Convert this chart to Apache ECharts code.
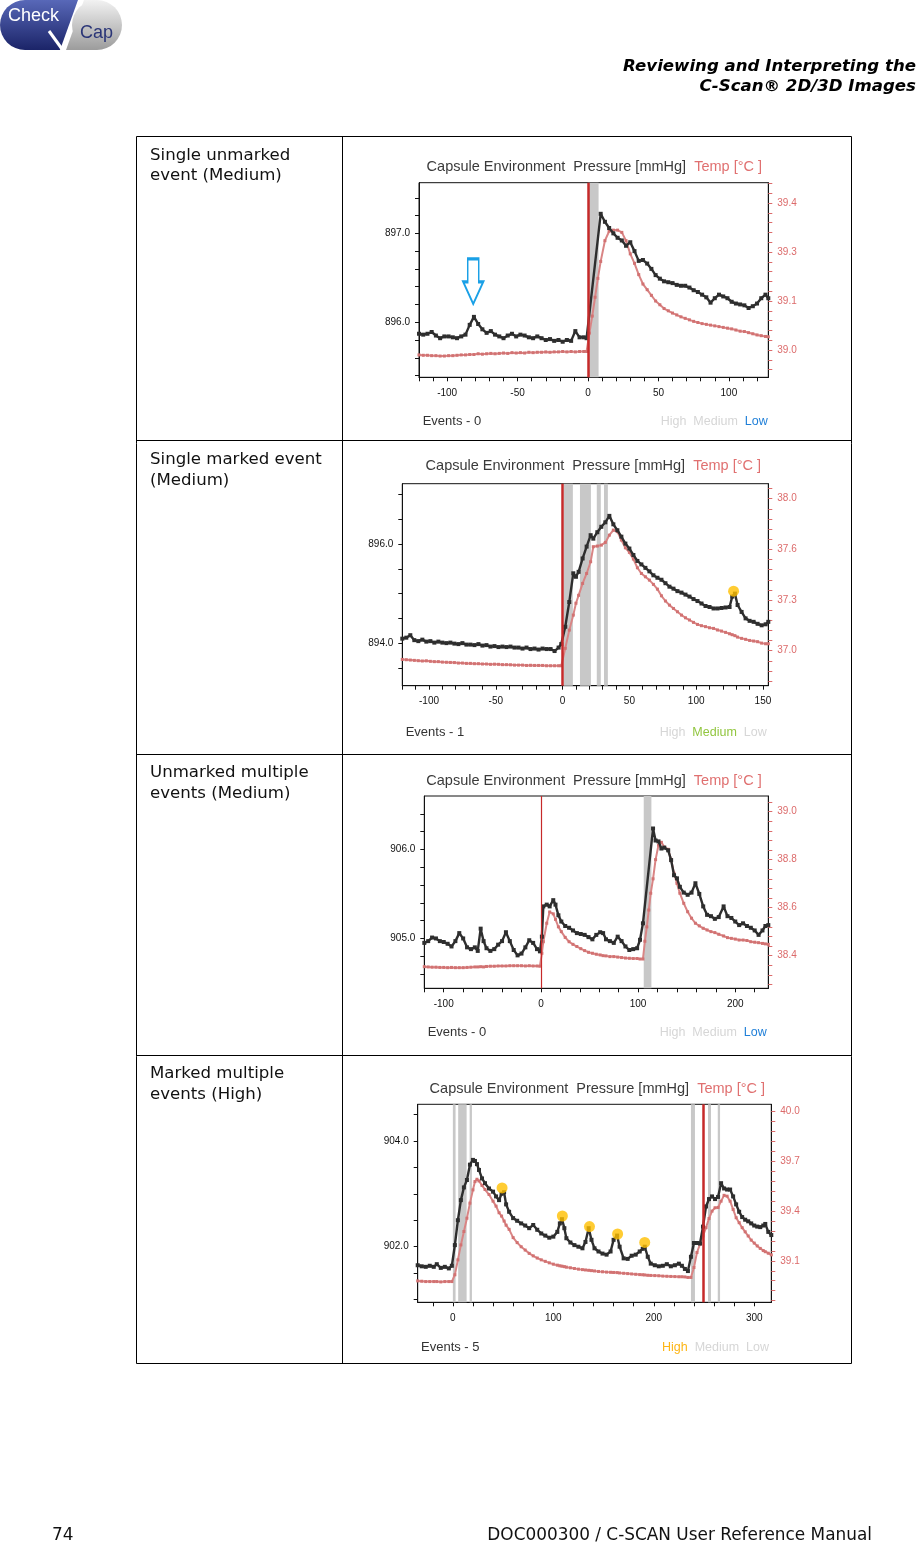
<!DOCTYPE html>
<html><head><meta charset="utf-8">
<script src="https://cdn.jsdelivr.net/npm/echarts@6/dist/echarts.min.js"></script>
<style>html,body{margin:0;padding:0;background:#fff}#c{width:917px;height:1544px}</style>
</head><body><div id="c"></div><script>
// ---------------- DATA ----------------
// Chart 1: Single unmarked event (Medium)
const c1x = [-120,-117,-114,-111,-108,-105,-102,-99,-96,-93,-90,-87,-84,-81,-78,-75,-72,-69,-66,-63,-60,-57,-54,-51,-48,-45,-42,-39,-36,-33,-30,-27,-24,-21,-18,-15,-12,-9,-6,-3,-1,1,3,5,7,9,12,15,18,21,24,27,30,33,36,39,42,45,48,51,54,57,60,63,66,69,72,75,78,81,84,87,90,93,96,99,102,105,108,111,114,117,120,123,126,128];
const c1p = [895.87,895.86,895.87,895.89,895.85,895.82,895.84,895.84,895.83,895.82,895.84,895.86,895.97,896.06,895.98,895.92,895.88,895.9,895.86,895.84,895.82,895.85,895.87,895.84,895.86,895.85,895.83,895.82,895.84,895.82,895.8,895.81,895.79,895.8,895.78,895.8,895.79,895.9,895.83,895.83,895.82,null,null,null,null,897.22,897.13,897.06,897.0,896.95,896.92,896.86,896.9,896.8,896.69,896.7,896.66,896.6,896.53,896.49,896.46,896.45,896.44,896.42,896.41,896.41,896.39,896.36,896.34,896.31,896.28,896.22,896.27,896.31,896.29,896.27,896.23,896.21,896.2,896.19,896.16,896.18,896.21,896.27,896.31,896.27];
const c1t = [38.987,38.986,38.986,38.985,38.985,38.984,38.984,38.985,38.985,38.986,38.987,38.987,38.988,38.988,38.99,38.989,38.99,38.991,38.99,38.991,38.992,38.991,38.993,38.992,38.993,38.992,38.994,38.993,38.994,38.994,38.995,38.994,38.995,38.995,38.996,38.995,38.996,38.995,38.996,38.996,38.996,39.045,39.09,39.14,39.19,39.235,39.29,39.315,39.318,39.318,39.312,39.29,39.255,39.23,39.2,39.175,39.16,39.145,39.13,39.12,39.11,39.104,39.098,39.093,39.088,39.084,39.08,39.076,39.073,39.07,39.068,39.066,39.064,39.062,39.06,39.058,39.056,39.053,39.05,39.049,39.046,39.043,39.04,39.038,39.036,39.035];
const c1xLabels = [-100,-50,0,50,100];
const c1pLabels = [896,897];
const c1tLabels = [39.0,39.13,39.26,39.39];
const c1bands = [[0.3,7.5]];
const c1red = [0];
const c1dots = [];
const c1arrow = [-81.5,896.46];

// Chart 2: Single marked event (Medium)
const c2x = [-120,-117,-114,-111,-108,-105,-102,-99,-96,-93,-90,-87,-84,-81,-78,-75,-72,-69,-66,-63,-60,-57,-54,-51,-48,-45,-42,-39,-36,-33,-30,-27,-24,-21,-18,-15,-12,-9,-6,-3,-1,2,5,8,10,12,15,18,21,23,26,29,32,35,38,41,44,47,50,53,56,59,62,65,68,71,74,77,80,83,86,89,92,95,98,101,104,107,110,113,116,119,122,125,127,129,131,134,137,140,143,146,149,152,154];
const c2p = [894.09,894.11,894.16,894.06,894.04,894.07,894.03,894.04,894.01,894.03,894.01,894.0,894.01,893.99,893.98,894.0,893.97,893.97,893.96,893.98,893.95,893.96,893.93,893.94,893.92,893.93,893.92,893.93,893.91,893.91,893.89,893.91,893.88,893.89,893.87,893.89,893.88,893.88,893.84,893.91,893.98,894.33,894.83,895.41,895.34,895.44,895.71,895.95,896.18,896.11,896.24,896.35,896.44,896.57,896.4,896.28,896.15,896.01,895.91,895.78,895.66,895.59,895.52,895.45,895.37,895.32,895.28,895.21,895.14,895.1,895.05,895.02,894.98,894.94,894.89,894.85,894.8,894.75,894.73,894.7,894.7,894.71,894.72,894.73,894.94,895.0,894.77,894.63,894.5,894.45,894.43,894.39,894.36,894.38,894.43];
const c2t = [36.945,36.943,36.941,36.939,36.937,36.935,36.936,36.933,36.931,36.931,36.928,36.927,36.926,36.925,36.922,36.922,36.92,36.92,36.918,36.918,36.916,36.916,36.914,36.915,36.914,36.912,36.912,36.911,36.909,36.909,36.909,36.907,36.908,36.907,36.907,36.907,36.905,36.905,36.905,36.905,36.905,37.015,37.13,37.225,37.3,37.35,37.425,37.488,37.562,37.657,37.661,37.667,37.684,37.73,37.762,37.752,37.699,37.65,37.621,37.579,37.524,37.488,37.467,37.446,37.419,37.389,37.347,37.314,37.288,37.267,37.246,37.225,37.208,37.194,37.179,37.166,37.158,37.152,37.145,37.141,37.131,37.124,37.116,37.107,37.101,37.095,37.086,37.078,37.072,37.065,37.061,37.057,37.048,37.044,37.044];
const c2xLabels = [-100,-50,0,50,100,150];
const c2pLabels = [894,896];
const c2tLabels = [37.0,37.32,37.64,37.96];
const c2bands = [[0.7,7.7],[13,21.2],[25.6,28.6],[31,33.9]];
const c2red = [0];
const c2dots = [[128,895.05]];

// Chart 3: Unmarked multiple events (Medium)
const c3x = [-120,-116,-112,-108,-104,-100,-96,-92,-88,-84,-80,-76,-72,-68,-65,-62,-59,-56,-52,-48,-44,-40,-36,-32,-28,-24,-20,-16,-12,-8,-4,-1,1,2.5,6,9,12.7,15,18,21,25,29,33,37,41,45,49,53,57,61,64,67,71,75,79,83,87,91,95,99,102,105,107,109,111,113,115.4,118,121,124,127,131,134,137,140,143,147,151,155,159,163,167,171,175,179,183,188,192,196,200,204,208,212,216,220,224,228,231,234];
const c3p = [904.95,904.97,905.01,905.0,904.97,904.96,904.94,904.91,904.97,905.06,905.0,904.9,904.88,904.9,904.86,905.11,904.97,904.89,904.86,904.88,904.93,904.97,905.07,904.97,904.87,904.81,904.83,904.9,904.98,904.95,904.88,904.855,905.02,905.36,905.38,905.36,905.43,905.38,905.26,905.19,905.14,905.12,905.09,905.06,905.05,905.04,905.015,904.99,905.04,905.07,905.06,904.99,904.97,904.95,905.02,904.97,904.91,904.87,904.88,904.89,904.985,905.17,null,null,null,null,906.235,906.1,906.09,906.01,906.02,905.99,905.88,905.71,905.675,905.58,905.515,905.49,905.515,905.62,905.5,905.36,905.265,905.25,905.22,905.24,905.36,905.25,905.23,905.19,905.15,905.17,905.14,905.12,905.09,905.04,905.09,905.14,905.15];
const c3t = [38.354,38.353,38.352,38.352,38.351,38.351,38.35,38.351,38.35,38.35,38.35,38.351,38.352,38.353,38.353,38.354,38.353,38.355,38.356,38.356,38.357,38.357,38.357,38.358,38.358,38.358,38.358,38.357,38.358,38.357,38.357,38.356,38.41,38.458,38.535,38.582,38.574,38.551,38.52,38.5,38.476,38.458,38.447,38.438,38.429,38.421,38.414,38.41,38.406,38.403,38.4,38.399,38.396,38.396,38.394,38.392,38.39,38.389,38.388,38.388,38.386,38.386,38.46,38.52,38.59,38.66,38.72,38.8,38.86,38.872,38.852,38.843,38.799,38.743,38.701,38.66,38.618,38.583,38.556,38.535,38.524,38.514,38.507,38.5,38.496,38.489,38.482,38.475,38.472,38.469,38.465,38.465,38.463,38.458,38.456,38.454,38.451,38.449,38.447];
const c3xLabels = [-100,0,100,200];
const c3pLabels = [905,906];
const c3tLabels = [38.4,38.6,38.8,39.0];
const c3bands = [[105.8,113.7]];
const c3red = [0];
const c3dots = [];

// Chart 4: Marked multiple events (High)
const c4x = [-35,-31,-27,-23,-19,-16,-12,-8,-4,-1,2,5,8,11,14,17,20,22,24,26,29,32,36,40,43,46,48.5,51,53,56,60,64,68,72,76,80,84,88,92,96,100,104,106.5,108.6,111,113,117,121,125,129,132,135.2,138,141,145,149,153,157,160,163.5,166,170,174,178,182,186,189,191,194,197,201,205,209,213,217,221,225,228,231,234,237,240,243,246,249,252,255,258,261,264,267,270,273,276,279,282,285,288,291,294,297,300,303,306,309,311,314,317];
const c4p = [901.65,901.63,901.62,901.64,901.62,901.67,901.6,901.62,901.59,901.64,902.03,902.5,902.88,903.12,903.26,903.55,903.64,903.62,903.56,903.45,903.29,903.2,903.1,903.04,902.95,902.88,903.0,903.03,902.8,902.66,902.54,902.49,902.44,902.4,902.35,902.41,902.32,902.25,902.21,902.17,902.19,902.28,902.44,902.52,902.35,902.16,902.08,902.03,902.0,901.97,902.09,902.35,902.13,901.97,901.91,901.87,901.85,901.91,902.13,902.21,902.0,901.78,901.77,901.83,901.85,901.91,901.96,902.0,901.81,901.68,901.65,901.63,901.64,901.67,901.63,901.65,901.68,901.64,901.58,901.54,901.81,902.07,902.07,902.06,902.38,902.76,902.9,902.95,902.9,902.94,903.2,903.1,903.08,903.08,902.95,902.8,902.66,902.56,902.51,902.48,902.44,902.4,902.38,902.37,902.4,902.43,902.28,902.22];
const c4t = [38.979,38.977,38.975,38.975,38.975,38.975,38.973,38.975,38.975,38.975,39.016,39.106,39.196,39.277,39.357,39.448,39.528,39.578,39.592,39.582,39.555,39.53,39.5,39.46,39.43,39.39,39.37,39.34,39.315,39.29,39.24,39.21,39.185,39.165,39.145,39.13,39.117,39.106,39.097,39.088,39.08,39.074,39.07,39.068,39.065,39.062,39.058,39.054,39.05,39.047,39.045,39.043,39.041,39.039,39.036,39.034,39.032,39.031,39.03,39.029,39.027,39.025,39.023,39.021,39.019,39.017,39.016,39.015,39.013,39.012,39.011,39.01,39.008,39.007,39.006,39.005,39.004,39.004,39.003,39.0,39.0,39.06,39.15,39.2,39.25,39.3,39.355,39.4,39.42,39.422,39.46,39.495,39.49,39.46,39.41,39.36,39.33,39.3,39.275,39.25,39.225,39.207,39.19,39.175,39.162,39.155,39.146,39.136];
const c4xLabels = [0,100,200,300];
const c4pLabels = [902,904];
const c4tLabels = [39.1,39.4,39.7,40.0];
const c4bands = [[0,2.7],[5.3,13.7],[16.7,19],[237,241],[254,257],[263.7,266]];
const c4red = [249.5];
const c4dots = [[49,903.11],[109,902.58],[136,902.38],[164,902.24],[191,902.08]];

const eventCounts = [0,1,0,5];
const rowLabels = [["Single unmarked","event (Medium)"],["Single marked event","(Medium)"],["Unmarked multiple","events (Medium)"],["Marked multiple","events (High)"]];
const activeLevel = ['Low','Medium','Low','High'];

// ---------------- LAYOUT / STYLE ----------------
const FC = '"Liberation Sans", Arial, sans-serif';
const FP = '"DejaVu Sans", Verdana, sans-serif';
const BLACK = '#2e2e2e', PINK = '#d98585', PINKD = '#d27272', PINKTXT = '#dc6b6b', RED = '#c62a2a';
function ticks(a, step, n){ const r=[]; for(let i=0;i<n;i++) r.push(+(a+i*step).toFixed(4)); return r; }
const zip = (xs, ys) => xs.map((x,k)=>[x, ys[k]]);

const charts = [
 {g:[419,182.7,349.3,194.6], x:c1x,p:c1p,t:c1t, xr:[-120,128], xt:ticks(-120,10,25), xl:c1xLabels,
  pr:[895.38,897.57], pt:ticks(895.4,0.2,11), pl:c1pLabels, tr:[38.9276,39.4438], tt:ticks(38.948,0.026,20), tl:c1tLabels,
  bands:c1bands, red:c1red, redW:2.5, dots:c1dots, arrow:c1arrow, title:[762,166.5], ev:[422.7,421.5], hml:[767.7,421.5]},
 {g:[402.3,483.7,366,202], x:c2x,p:c2p,t:c2t, xr:[-120,154], xt:ticks(-120,10,28), xl:c2xLabels,
  pr:[893.14,897.22], pt:ticks(893.5,0.5,8), pl:c2pLabels, tr:[36.779,38.055], tt:ticks(36.808,0.064,20), tl:c2tLabels,
  bands:c2bands, red:c2red, redW:2.5, dots:c2dots, title:[761,466.2], ev:[405.7,732.8], hml:[766.7,732.8]},
 {g:[424.3,796,344,192.3], x:c3x,p:c3p,t:c3t, xr:[-120,234], xt:ticks(-120,20,18), xl:c3xLabels,
  pr:[904.44,906.6], pt:ticks(904.6,0.2,10), pl:c3pLabels, tr:[38.264,39.065], tt:ticks(38.28,0.04,20), tl:c3tLabels,
  bands:c3bands, red:c3red, redW:1.2, dots:c3dots, title:[761.7,781.2], ev:[427.7,1032.5], hml:[766.7,1032.5]},
 {g:[417.7,1104.3,353.6,198], x:c4x,p:c4p,t:c4t, xr:[-35,317], xt:ticks(-20,20,17), xl:c4xLabels,
  pr:[900.95,904.69], pt:ticks(901,0.5,8), pl:c4pLabels, tr:[38.85,40.044], tt:ticks(38.86,0.06,20), tl:c4tLabels,
  bands:c4bands, red:c4red, redW:2.5, dots:c4dots, title:[765,1088.8], ev:[421,1347.5], hml:[769,1347.5]}
];

const grid=[], xAxis=[], yAxis=[], series=[], graphic=[];
charts.forEach((c,i)=>{
  grid.push({left:c.g[0], top:c.g[1], width:c.g[2], height:c.g[3], show:true, borderColor:'#111', borderWidth:1, backgroundColor:'rgba(0,0,0,0)'});
  xAxis.push({type:'value', gridIndex:i, min:c.xr[0], max:c.xr[1], position:'bottom',
    axisLine:{show:true, onZero:false, lineStyle:{color:'#111', width:1}},
    axisTick:{show:true, length:4, customValues:c.xt, lineStyle:{color:'#111'}},
    axisLabel:{show:true, customValues:c.xl, margin:11, fontSize:10, fontFamily:FC, color:'#111', formatter:v=>String(v)},
    splitLine:{show:false}});
  yAxis.push({type:'value', gridIndex:i, min:c.pr[0], max:c.pr[1], position:'left',
    axisLine:{show:true, onZero:false, lineStyle:{color:'#111'}},
    axisTick:{show:true, length:4, customValues:c.pt, lineStyle:{color:'#111'}},
    axisLabel:{show:true, customValues:c.pl, margin:9, fontSize:10, fontFamily:FC, color:'#111', formatter:v=>v.toFixed(1)},
    splitLine:{show:false}});
  yAxis.push({type:'value', gridIndex:i, min:c.tr[0], max:c.tr[1], position:'right',
    axisLine:{show:true, onZero:false, lineStyle:{color:'#111'}},
    axisTick:{show:true, length:4, customValues:c.tt, lineStyle:{color:PINKTXT}},
    axisLabel:{show:true, customValues:c.tl, margin:9, fontSize:10, fontFamily:FC, color:PINKTXT, formatter:v=>v.toFixed(1)},
    splitLine:{show:false}});
  series.push({type:'line', xAxisIndex:i, yAxisIndex:2*i, data:[], silent:true, z:1, animation:false,
    markArea:{silent:true, itemStyle:{color:'#c8c8c8'}, label:{show:false}, data:c.bands.map(b=>[{xAxis:b[0]},{xAxis:b[1]}])}});
  series.push({type:'line', xAxisIndex:i, yAxisIndex:2*i, data:[], silent:true, z:2, animation:false,
    markLine:{silent:true, symbol:['none','none'], label:{show:false}, animation:false,
      lineStyle:{color:RED, width:c.redW, type:'solid'}, data:c.red.map(v=>({xAxis:v}))}});
  series.push({type:'line', xAxisIndex:i, yAxisIndex:2*i+1, data:zip(c.x,c.t), connectNulls:true, silent:true, z:3, animation:false,
    symbol:'rect', symbolSize:3, showSymbol:true, showAllSymbol:true,
    lineStyle:{color:PINK, width:2}, itemStyle:{color:PINKD}});
  series.push({type:'line', xAxisIndex:i, yAxisIndex:2*i, data:zip(c.x,c.p), connectNulls:true, silent:true, z:4, animation:false,
    symbol:'rect', symbolSize:4, showSymbol:true, showAllSymbol:true,
    lineStyle:{color:BLACK, width:2.4}, itemStyle:{color:BLACK}});
  if (c.dots.length) series.push({type:'scatter', xAxisIndex:i, yAxisIndex:2*i, data:c.dots, symbolSize:11, silent:true, z:5, animation:false,
    itemStyle:{color:'#ffbf00'}});
  if (c.arrow) series.push({type:'line', xAxisIndex:i, yAxisIndex:2*i, data:[], silent:true, z:6, animation:false,
    markPoint:{silent:true, animation:false, symbol:'path://M4.5,0 L15.5,0 L15.5,23 L20,23 L10,45 L0,23 L4.5,23 Z', symbolSize:[20,45], symbolKeepAspect:false,
      label:{show:false}, itemStyle:{color:'rgba(255,255,255,0)', borderColor:'#1aa0e6', borderWidth:2.2},
      data:[{coord:c.arrow}]}});
  // titles & legends
  graphic.push({type:'text', x:c.title[0], y:c.title[1], silent:true, style:{
    text:'{a|Capsule Environment  Pressure [mmHg]}  {b|Temp [°C ]}', align:'right', verticalAlign:'middle',
    font:'14.5px '+FC, rich:{a:{fill:'#3a3a3a', font:'14.5px '+FC}, b:{fill:'#e07070', font:'14.5px '+FC}}}});
  graphic.push({type:'text', x:c.ev[0], y:c.ev[1], silent:true, style:{text:'Events - '+eventCounts[i], align:'left', verticalAlign:'middle', font:'13px '+FC, fill:'#333'}});
  const col = {High:'#d6d6d6', Medium:'#d6d6d6', Low:'#d6d6d6'};
  col[activeLevel[i]] = {High:'#fdb515', Medium:'#92c640', Low:'#1f7fd8'}[activeLevel[i]];
  graphic.push({type:'text', x:c.hml[0], y:c.hml[1], silent:true, style:{
    text:'{h|High}  {m|Medium}  {l|Low}', align:'right', verticalAlign:'middle', font:'12.5px '+FC,
    rich:{h:{fill:col.High, font:'12.5px '+FC}, m:{fill:col.Medium, font:'12.5px '+FC}, l:{fill:col.Low, font:'12.5px '+FC}}}});
});

// table
graphic.push({type:'rect', silent:true, shape:{x:136.5,y:136.5,width:715,height:1227}, style:{fill:'none', stroke:'#000', lineWidth:1}});
graphic.push({type:'line', silent:true, shape:{x1:342.5,y1:136,x2:342.5,y2:1364}, style:{stroke:'#000', lineWidth:1}});
[440.5,754.5,1055.5].forEach(y=>graphic.push({type:'line', silent:true, shape:{x1:136,y1:y,x2:852,y2:y}, style:{stroke:'#000', lineWidth:1}}));
const rowY = [[155.5,176],[460,480.5],[772.5,793.5],[1073.5,1094.5]];
rowLabels.forEach((r,i)=>r.forEach((t,j)=>graphic.push({type:'text', silent:true, x:150, y:rowY[i][j],
  style:{text:t, font:'16.6px '+FP, fill:'#111', align:'left', verticalAlign:'middle'}})));
// header / footer
graphic.push({type:'text', silent:true, x:916, y:66.5, style:{text:'Reviewing and Interpreting the', font:'italic bold 16.6px '+FP, fill:'#000', align:'right', verticalAlign:'middle'}});
graphic.push({type:'text', silent:true, x:916, y:86.5, style:{text:'C-Scan® 2D/3D Images', font:'italic bold 16.6px '+FP, fill:'#000', align:'right', verticalAlign:'middle'}});
graphic.push({type:'text', silent:true, x:52, y:1535.5, style:{text:'74', font:'16.9px '+FP, fill:'#111', align:'left', verticalAlign:'middle'}});
graphic.push({type:'text', silent:true, x:872, y:1535.5, style:{text:'DOC000300 / C-SCAN User Reference Manual', font:'16.9px '+FP, fill:'#111', align:'right', verticalAlign:'middle'}});
// logo
const navy = new echarts.graphic.LinearGradient(0,0,0,1,[{offset:0,color:'#5868b8'},{offset:1,color:'#1b2468'}]);
const grey = new echarts.graphic.LinearGradient(0,0,0,1,[{offset:0,color:'#f2f2f2'},{offset:1,color:'#9c9c9c'}]);
graphic.push({type:'circle', silent:true, shape:{cx:25,cy:25,r:25}, style:{fill:navy}});
graphic.push({type:'polygon', silent:true, shape:{points:[[25,0],[78,0],[60,50],[25,50]]}, style:{fill:navy}});
graphic.push({type:'circle', silent:true, shape:{cx:97,cy:25,r:25}, style:{fill:grey}});
graphic.push({type:'polygon', silent:true, shape:{points:[[84,0],[97,0],[97,50],[66,50]]}, style:{fill:grey}});
graphic.push({type:'line', silent:true, shape:{x1:49,y1:31,x2:62,y2:49}, style:{stroke:'#fff', lineWidth:3}});
graphic.push({type:'text', silent:true, x:8, y:16, style:{text:'Check', font:'18px '+FC, fill:'#fff', align:'left', verticalAlign:'middle'}});
graphic.push({type:'text', silent:true, x:80, y:33, style:{text:'Cap', font:'18px '+FC, fill:'#2a3577', align:'left', verticalAlign:'middle'}});

const chart = echarts.init(document.getElementById('c'), null, {renderer:'canvas', width:917, height:1544});
chart.setOption({backgroundColor:'#fff', animation:false, grid, xAxis, yAxis, series, graphic});
</script></body></html>
